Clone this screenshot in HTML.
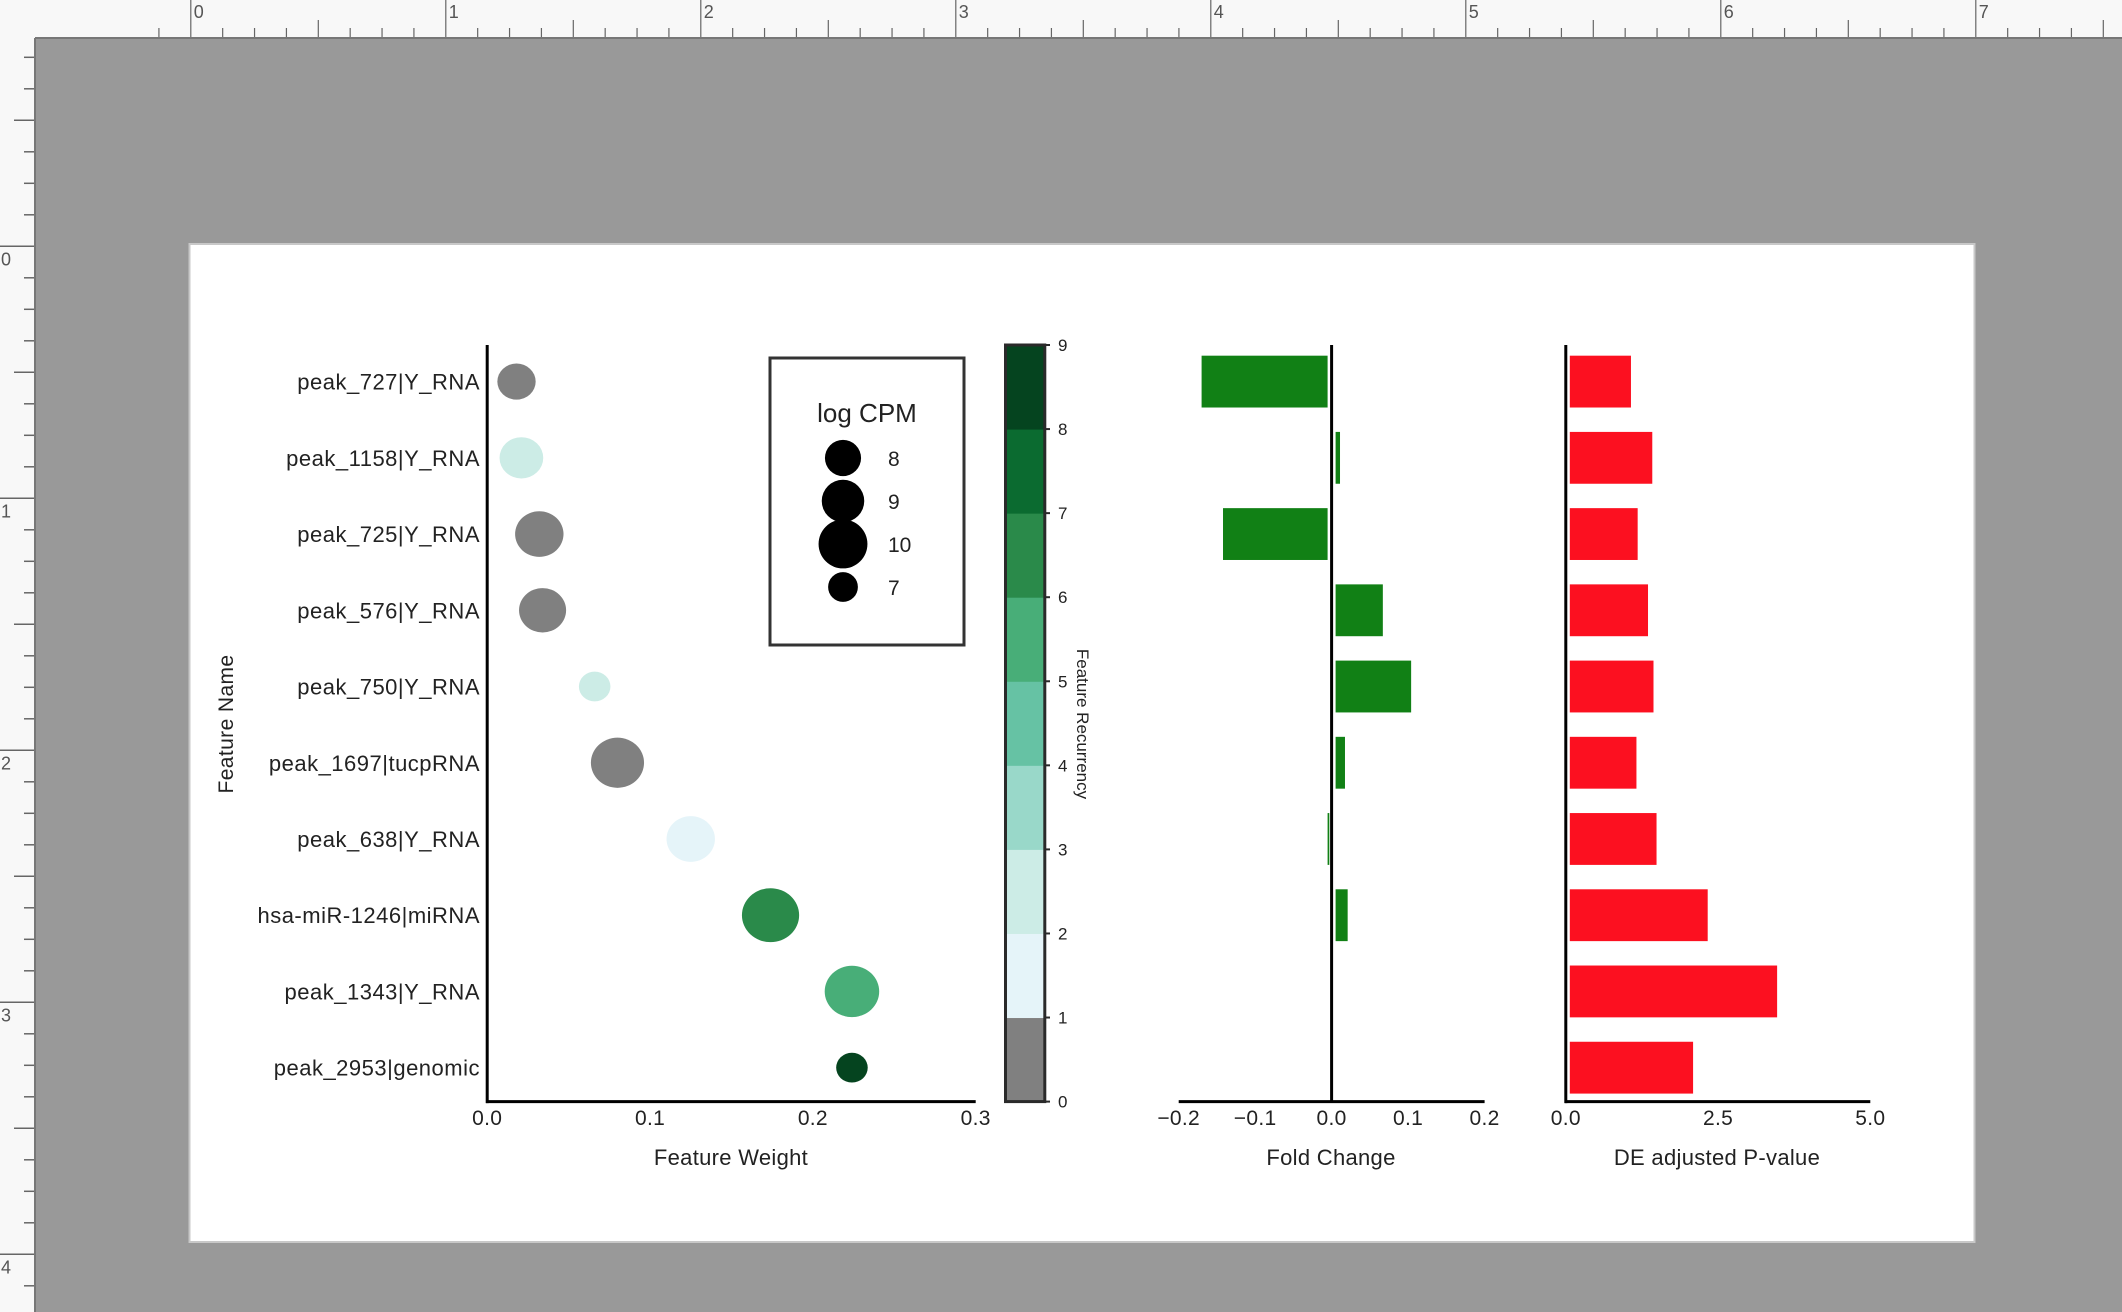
<!DOCTYPE html>
<html><head><meta charset="utf-8">
<style>
html,body{margin:0;padding:0;background:#999;}
svg{display:block;font-family:"Liberation Sans",Arial,sans-serif;}
</style></head>
<body>
<svg id="c" width="2122" height="1312" viewBox="0 0 2122 1312" xmlns="http://www.w3.org/2000/svg">
<rect x="0" y="0" width="2122" height="1312" fill="#999999"/>
<g id="rulerTop"><rect x="0" y="0" width="2122" height="38" fill="#f8f8f8"/></g>
<g id="rulerLeft"><rect x="0" y="0" width="35" height="1312" fill="#f8f8f8"/></g>
<rect x="0" y="0" width="36" height="39" fill="#f8f8f8"/>
<line x1="35" y1="38" x2="2122" y2="38" stroke="#777" stroke-width="2"/>
<line x1="35" y1="38" x2="35" y2="1312" stroke="#777" stroke-width="2"/>
<rect x="189.5" y="244" width="1785" height="998" fill="#ffffff" stroke="#c8c8c8" stroke-width="2"/>
<g id="scatter"></g>
<g id="cbar"></g>
<g id="fold"></g>
<g id="pval"></g>
<g id="legend">
<rect x="770" y="358" width="194" height="287" fill="#fff" stroke="#333" stroke-width="3"/>
<text x="867" y="422" font-size="26" text-anchor="middle" fill="#222">log CPM</text>
</g>
<text x="233" y="724" font-size="21" fill="#222" text-anchor="middle" letter-spacing="0.4" transform="rotate(-90 233 724)">Feature Name</text>
<text x="731" y="1165" font-size="22" fill="#222" text-anchor="middle" letter-spacing="0.3">Feature Weight</text>
<text x="1331" y="1165" font-size="22" fill="#222" text-anchor="middle" letter-spacing="0.3">Fold Change</text>
<text x="1717" y="1165" font-size="22" fill="#222" text-anchor="middle" letter-spacing="0.3">DE adjusted P-value</text>
<text x="1077" y="724" font-size="17" fill="#222" text-anchor="middle" transform="rotate(90 1077 724)">Feature Recurrency</text>
</svg>
<script>
const names = ["peak_727|Y_RNA","peak_1158|Y_RNA","peak_725|Y_RNA","peak_576|Y_RNA","peak_750|Y_RNA","peak_1697|tucpRNA","peak_638|Y_RNA","hsa-miR-1246|miRNA","peak_1343|Y_RNA","peak_2953|genomic"];
const weights = [0.018,0.021,0.032,0.034,0.066,0.080,0.125,0.174,0.224,0.224];
const recurrency = [0,2,0,0,2,0,1,6,5,8];
const logCpm = [8.0,8.8,9.5,9.3,7.0,10.2,9.5,10.8,10.4,7.0];
const foldChange = [-0.170,0.011,-0.142,0.067,0.104,0.0175,-0.003,0.021,0,0];
const pvalues = [1.07,1.42,1.18,1.35,1.44,1.16,1.49,2.33,3.47,2.09];
const legendValues = [8,9,10,7];
const wTicks = [0.0,0.1,0.2,0.3];
const fTicks = [-0.2,-0.1,0.0,0.1,0.2];
const pTicks = [0.0,2.5,5.0];
const cTicks = [0,1,2,3,4,5,6,7,8,9];
const cColors = ["#808080","#e5f4f9","#ccece6","#99d8c9","#66c2a4","#48ae78","#2a8a4a","#0b6b30","#05441f"];

const NS="http://www.w3.org/2000/svg";
function mk(p,tag,a){const e=document.createElementNS(NS,tag);for(const k in a)e.setAttribute(k,a[k]);p.appendChild(e);return e;}
const fmt1=v=>(v<0?"\u2212":"")+Math.abs(v).toFixed(1);

const yTop=345, bot=1101.6;
const yRow=i=>381.6+i*76.23;
const xW=v=>487.2+v*(975.7-487.2)/0.3;
const xF=v=>1331.6+v*(1484.6-1178.7)/0.4;
const xP=v=>1565.8+v*(1870.3-1565.8)/5;
const rC=v=>(11+(v-7)*2.35)*1.3533;

// rulers
const rt=document.getElementById('rulerTop');
for(let i=-1;i<=8*8+8;i++){const x=190.8+i*255/8;if(x<36||x>2122)continue;
 const big=i%8===0, mid=i%4===0;
 const t=mk(rt,'line',{x1:x,x2:x,y1:big?0:(mid?20:28),y2:38,stroke:'#666','stroke-width':1.2});
 
 
 if(big){const l=mk(rt,'text',{x:x+3,y:18,'font-size':18,fill:'#555'});l.textContent=String(i/8);
  
  }
}
const rl=document.getElementById('rulerLeft');
for(let i=-8;i<=48;i++){const y=246.3+i*252/8;if(y<39||y>1312)continue;
 const big=i%8===0, mid=i%4===0;
 const t=mk(rl,'line',{x1:big?0:(mid?14:24),x2:35,y1:y,y2:y,stroke:'#666','stroke-width':1.5});
 
 
 if(big){const l=mk(rl,'text',{x:1,y:y+19,'font-size':18,fill:'#555'});l.textContent=String(i/8);
  
  }
}

// scatter
const sc=document.getElementById('scatter');
names.forEach((n,i)=>{
 const t=mk(sc,'text',{x:480,y:yRow(i)+8,'font-size':22,fill:'#222','text-anchor':'end','letter-spacing':0.5});t.textContent=n;
 
 
 const r=rC(logCpm[i]);
 const e=mk(sc,'ellipse',{cx:xW(weights[i]),cy:yRow(i),rx:r*1.06,ry:r,fill:cColors[recurrency[i]]});
 
 
});
mk(sc,'line',{x1:487.2,x2:487.2,y1:yTop,y2:bot+1.5,stroke:'#000','stroke-width':3});
mk(sc,'line',{x1:486,x2:975.7,y1:bot,y2:bot,stroke:'#000','stroke-width':3});
wTicks.forEach(v=>{const t=mk(sc,'text',{x:xW(v),y:1125,'font-size':21,fill:'#222','text-anchor':'middle','letter-spacing':0.3});t.textContent=v.toFixed(1);
 
 });

// legend
const lg=document.getElementById('legend');
legendValues.forEach((v,i)=>{const cy=458+i*43;
 const c=mk(lg,'circle',{cx:843,cy:cy,r:rC(v),fill:'#000'});
 
 
 const t=mk(lg,'text',{x:888,y:cy+8,'font-size':21,fill:'#222'});t.textContent=String(v);
 
 });

// colorbar
const cb=document.getElementById('cbar');
const cyB=v=>bot-v*(bot-yTop)/9;
cColors.forEach((c,i)=>{const r=mk(cb,'rect',{x:1005.5,y:cyB(i+1),width:39.3,height:cyB(i)-cyB(i+1)+0.5,fill:c});
 
 });
mk(cb,'rect',{x:1005.5,y:yTop,width:39.3,height:bot-yTop,fill:'none',stroke:'#2a2a2a','stroke-width':3});
cTicks.forEach(v=>{mk(cb,'line',{x1:1044.8,x2:1050,y1:cyB(v),y2:cyB(v),stroke:'#2a2a2a','stroke-width':2});
 const t=mk(cb,'text',{x:1058,y:cyB(v)+6,'font-size':17,fill:'#222'});t.textContent=String(v);
 
 });

// fold change
const fd=document.getElementById('fold');
const bh=0.68*76.23;
foldChange.forEach((v,i)=>{if(v===0)return;const a=xF(0)+(v>0?4:-4),b=xF(v);
 const r=mk(fd,'rect',{x:Math.min(a,b),y:yRow(i)-bh/2,width:Math.max(Math.abs(b-a),1),height:bh,fill:'#118015'});
 
 });
mk(fd,'line',{x1:xF(0),x2:xF(0),y1:yTop,y2:bot,stroke:'#000','stroke-width':3});
mk(fd,'line',{x1:1178.7,x2:1484.6,y1:bot,y2:bot,stroke:'#000','stroke-width':3});
fTicks.forEach(v=>{const t=mk(fd,'text',{x:xF(v),y:1125,'font-size':21,fill:'#222','text-anchor':'middle','letter-spacing':0.3});t.textContent=fmt1(v);
 
 });

// pvalue
const pv=document.getElementById('pval');
pvalues.forEach((v,i)=>{const r=mk(pv,'rect',{x:xP(0)+4,y:yRow(i)-bh/2,width:xP(v)-xP(0)-4,height:bh,fill:'#fc1020'});
 
 });
mk(pv,'line',{x1:xP(0),x2:xP(0),y1:yTop,y2:bot+1.5,stroke:'#000','stroke-width':3});
mk(pv,'line',{x1:xP(0)-1,x2:1870.3,y1:bot,y2:bot,stroke:'#000','stroke-width':3});
pTicks.forEach(v=>{const t=mk(pv,'text',{x:xP(v),y:1125,'font-size':21,fill:'#222','text-anchor':'middle','letter-spacing':0.3});t.textContent=v.toFixed(1);
 
 });
</script>
</body></html>
